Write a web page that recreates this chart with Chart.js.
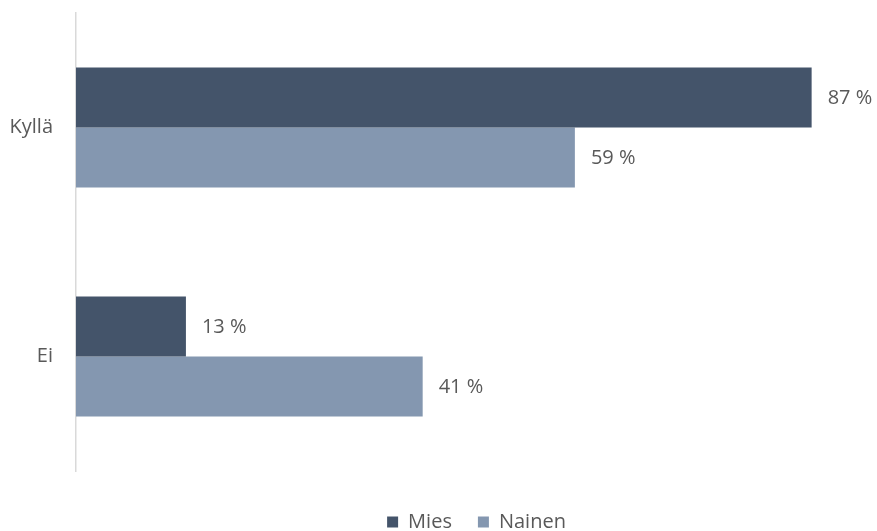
<!DOCTYPE html>
<html>
<head>
<meta charset="utf-8">
<script src="https://cdn.jsdelivr.net/npm/chart.js@4.4.1/dist/chart.umd.min.js"></script>
<style>
  html, body { margin: 0; padding: 0; background: #ffffff; }
  #wrap { width: 877px; height: 531px; }
</style>
</head>
<body>
<div id="wrap"><canvas id="chart"></canvas></div>
<script>
// Vastaukset sukupuolen mukaan (%)
const categories = ['Kyllä', 'Ei'];
const seriesNames = ['Mies', 'Nainen'];
const miesValues = [87, 13];
const nainenValues = [59, 41];

const COLORS = { mies: '#44546a', nainen: '#8497b0', text: '#595959', axis: '#d9d9d9' };
const FONT = "'Open Sans', 'Noto Sans', sans-serif";

Chart.defaults.font.family = FONT;
Chart.defaults.color = COLORS.text;

// Arvotekstit palkkien perään
const valueLabels = {
    id: 'valueLabels',
    afterDatasetsDraw(chart) {
        const ctx = chart.ctx;
        ctx.save();
        ctx.font = "20px " + FONT;
        ctx.fillStyle = COLORS.text;
        ctx.textAlign = 'left';
        ctx.textBaseline = 'middle';
        chart.data.datasets.forEach((ds, i) => {
            chart.getDatasetMeta(i).data.forEach((bar, j) => {
                ctx.fillText(ds.data[j] + ' %', bar.x + 16, bar.y + 1);
            });
        });
        ctx.restore();
    }
};

// Selite keskitetään piirtoalueen kohdalle eikä koko kankaalle
const legendOverPlot = {
    id: 'legendOverPlot',
    afterLayout(chart) {
        const lg = chart.legend;
        if (!lg) return;
        lg.left = chart.chartArea.left;
        lg.right = chart.width;
    }
};

new Chart(document.getElementById('chart'), {
    type: 'bar',
    data: {
        labels: categories,
        datasets: [
            { label: seriesNames[0], data: miesValues, backgroundColor: COLORS.mies },
            { label: seriesNames[1], data: nainenValues, backgroundColor: COLORS.nainen }
        ]
    },
    options: {
        indexAxis: 'y',
        responsive: true,
        maintainAspectRatio: false,
        animation: false,
        datasets: { bar: { categoryPercentage: 0.525, barPercentage: 1.0 } },
        layout: { padding: { top: 13, right: 40, left: 0, bottom: -11 } },
        scales: {
            x: {
                min: 0,
                max: 90,
                grid: { display: false },
                border: { display: false },
                ticks: { display: false },
                afterFit(scale) { scale.height = 15; }
            },
            y: {
                grid: { display: false, drawTicks: true, tickLength: 23 },
                border: { display: true, color: COLORS.axis, width: 1.5 },
                ticks: { font: { size: 20 }, padding: 0, color: COLORS.text },
                afterFit(scale) { scale.width = 76; }
            }
        },
        plugins: {
            legend: {
                position: 'bottom',
                labels: {
                    boxWidth: 11,
                    boxHeight: 11,
                    padding: 26,
                    font: { size: 20 },
                    color: COLORS.text
                }
            },
            tooltip: { enabled: false }
        }
    },
    plugins: [valueLabels, legendOverPlot]
});
</script>
</body>
</html>
